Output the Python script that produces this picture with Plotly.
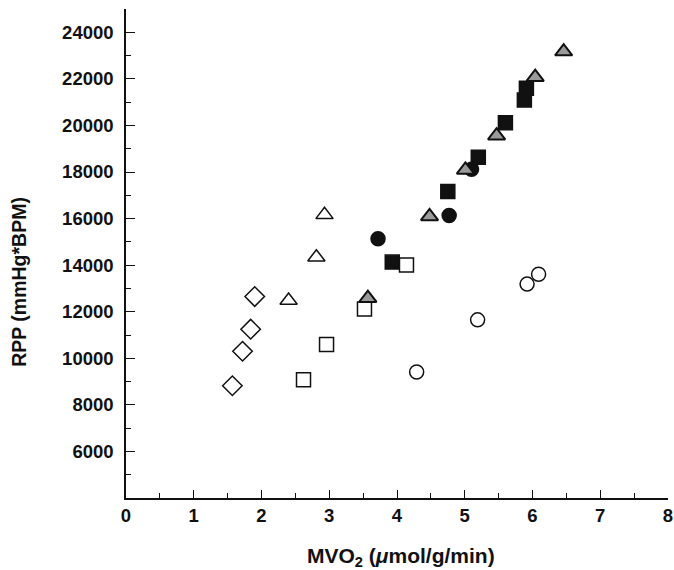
import plotly.graph_objects as go

# Data (MVO2 in umol/g/min, RPP in mmHg*BPM)
diamond_x = [1.57, 1.72, 1.84, 1.90]
diamond_y = [8820, 10300, 11250, 12650]

open_tri_x = [2.40, 2.81, 2.93]
open_tri_y = [12480, 14340, 16160]

open_sq_x = [2.62, 2.96, 3.52, 4.14]
open_sq_y = [9080, 10590, 12120, 14010]

open_circ_x = [4.29, 5.19, 5.92, 6.09]
open_circ_y = [9410, 11650, 13185, 13610]

filled_sq_x = [3.93, 4.75, 5.20, 5.60, 5.88, 5.91]
filled_sq_y = [14130, 17160, 18635, 20120, 21090, 21600]

filled_circ_x = [3.72, 4.77, 5.10]
filled_circ_y = [15130, 16130, 18120]

grey_tri_x = [3.57, 4.48, 5.01, 5.47, 6.04, 6.46]
grey_tri_y = [12580, 16090, 18090, 19560, 22070, 23170]

x_ticks = [0, 1, 2, 3, 4, 5, 6, 7, 8]
y_ticks = [6000, 8000, 10000, 12000, 14000, 16000, 18000, 20000, 22000, 24000]

fig = go.Figure()

def add(xs, ys, symbol, size, fill, line_w=1.5):
    fig.add_trace(go.Scatter(
        x=xs, y=ys, mode="markers", showlegend=False, cliponaxis=False,
        marker=dict(symbol=symbol, size=size, color=fill,
                    line=dict(color="#111111", width=line_w))))

add(open_circ_x, open_circ_y, "circle", 14, "white")
add(diamond_x, diamond_y, "diamond", 15, "white")
add(open_tri_x, open_tri_y, "triangle-up", 15, "white")
add(filled_sq_x, filled_sq_y, "square", 14, "#111111")
add(filled_circ_x, filled_circ_y, "circle", 14, "#111111")
add(open_sq_x, open_sq_y, "square", 14, "white")
add(grey_tri_x, grey_tri_y, "triangle-up", 15, "#9a9a9a", 2)

FAMILY = "Liberation Sans, Arial, sans-serif"
font_tick = dict(family=FAMILY, size=18.5, color="#111111", weight="bold")

fig.update_xaxes(
    range=[0, 8], tickvals=x_ticks, ticktext=[str(v) for v in x_ticks],
    showline=True, linecolor="#111111", linewidth=1.5, mirror=False,
    ticks="inside", ticklen=8, tickwidth=1.2, tickcolor="#111111",
    minor=dict(dtick=0.5, ticks="inside", ticklen=5, tickwidth=1, tickcolor="#111111"),
    showgrid=False, zeroline=False, tickfont=font_tick, ticklabelstandoff=0,
    automargin=False,
)
fig.update_yaxes(
    range=[4000, 25000], tickvals=y_ticks, ticktext=[str(v) for v in y_ticks],
    showline=True, linecolor="#111111", linewidth=1.5, mirror=False,
    ticks="inside", ticklen=9, tickwidth=1.2, tickcolor="#111111",
    minor=dict(dtick=1000, ticks="inside", ticklen=5, tickwidth=1, tickcolor="#111111"),
    showgrid=False, zeroline=False, tickfont=font_tick, ticklabelstandoff=7,
    automargin=False,
)

fig.add_annotation(
    text="MVO<sub>2</sub> (<i>μ</i>mol/g/min)", xref="paper", yref="paper",
    x=0.507, y=0, yshift=-59, xanchor="center", yanchor="middle", showarrow=False,
    font=dict(family=FAMILY, size=21, color="#111111", weight="bold"),
)
fig.add_annotation(
    text="RPP (mmHg*BPM)", xref="paper", yref="paper", textangle=-90,
    x=0, xshift=-107, y=0.442, xanchor="center", yanchor="middle", showarrow=False,
    font=dict(family=FAMILY, size=19.5, color="#111111", weight="bold"),
)

fig.update_layout(
    width=674, height=570,
    margin=dict(l=126, r=6, t=9, b=72),
    paper_bgcolor="white", plot_bgcolor="white",
)

fig.write_html("out.html", config={"displayModeBar": False},
               post_script="document.body.style.margin='0';")
